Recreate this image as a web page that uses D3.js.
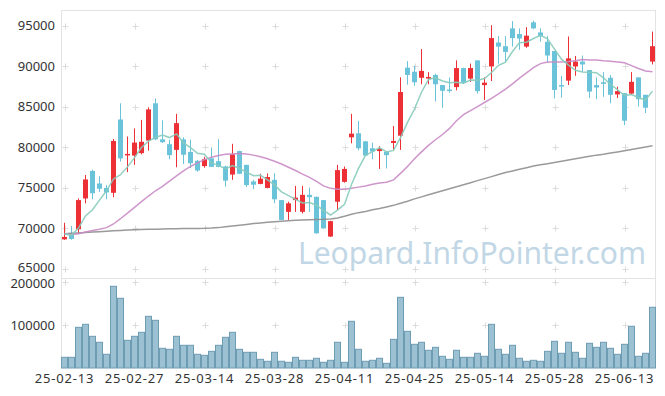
<!DOCTYPE html>
<html><head><meta charset="utf-8">
<script src="https://cdn.jsdelivr.net/npm/d3@7"></script>
<style>html,body{margin:0;padding:0;background:#fff;}svg{display:block;}</style>
</head><body>
<svg id="c" width="665" height="396"></svg>
<script>
const dates = ["25-02-13","25-02-14","25-02-17","25-02-18","25-02-19","25-02-20","25-02-21","25-02-24","25-02-25","25-02-26",
"25-02-27","25-02-28","25-03-04","25-03-05","25-03-06","25-03-07","25-03-10","25-03-11","25-03-12","25-03-13",
"25-03-14","25-03-17","25-03-18","25-03-19","25-03-20","25-03-21","25-03-24","25-03-25","25-03-26","25-03-27",
"25-03-28","25-03-31","25-04-01","25-04-02","25-04-03","25-04-04","25-04-07","25-04-08","25-04-09","25-04-10",
"25-04-11","25-04-14","25-04-15","25-04-16","25-04-17","25-04-18","25-04-21","25-04-22","25-04-23","25-04-24",
"25-04-25","25-04-28","25-04-29","25-04-30","25-05-02","25-05-07","25-05-08","25-05-09","25-05-12","25-05-13",
"25-05-14","25-05-15","25-05-16","25-05-19","25-05-20","25-05-21","25-05-22","25-05-23","25-05-26","25-05-27",
"25-05-28","25-05-29","25-05-30","25-06-02","25-06-04","25-06-05","25-06-09","25-06-10","25-06-11","25-06-12",
"25-06-13","25-06-16","25-06-17","25-06-18","25-06-19"];
const open = [68600,69400,69850,73650,77050,75500,74950,74350,83400,79100,
78950,79250,80800,85400,80950,80350,79650,80950,79400,78300,
77650,78600,78250,77600,76600,79500,77800,75750,75450,74950,
75950,73450,72000,73450,72000,74100,73850,73450,68950,73250,
75700,81200,81700,80700,79850,79500,79400,80500,81400,89800,
89300,88550,88450,88900,87650,87100,87400,89750,88450,90700,
87650,89950,92900,92450,94650,93950,92400,95400,94150,93000,
91850,87650,88200,89950,90550,89500,87650,88000,88550,86500,
86650,86600,88600,86450,90550];
const high = [70650,70250,73650,76550,77200,76400,75300,81000,85400,81300,
82300,83350,84900,86000,83300,80900,84100,81200,80900,78400,
78800,79950,80950,77700,80400,79550,77800,75950,76700,76750,
76750,73450,73250,75200,75200,75000,73900,73450,70900,77800,
77600,84100,83200,80750,80550,80100,79500,82600,88600,90600,
90050,92100,89250,89050,87650,88600,90700,89800,90300,90700,
88600,95050,93700,93700,95550,94650,94800,95600,94650,93700,
91850,88800,93650,91250,91300,89500,88600,89250,88900,87450,
86650,89250,88600,86450,94250];
const low = [68550,68550,69250,73050,73550,74450,73550,73800,78200,76900,
77800,79100,79550,80850,80500,78500,77500,77900,77400,76950,
77450,77550,77500,75100,75950,76650,75050,74800,75400,74900,
73050,70950,71000,72000,71800,72000,69300,69950,68900,72200,
75600,80450,79600,78900,78500,77300,77350,79650,79650,87700,
87550,87750,87750,85650,84850,86700,87000,87800,88050,86600,
85800,88150,90300,90550,92400,92000,92250,94550,93000,90450,
86000,86100,87650,88800,89300,86050,85900,86200,85400,86050,
82700,86450,85000,84200,90200];
const close = [68900,68650,73450,76000,74300,74850,74400,80750,78600,79150,
80550,80650,84650,80950,80600,79000,82950,79050,78000,77100,
78500,77550,77550,75850,79100,76700,75300,75350,76100,76300,
73550,71000,73050,73750,74100,73800,69350,69950,70850,77150,
77300,81650,79850,78950,79450,79750,79000,80750,86800,88900,
88000,89400,88650,87750,86950,86950,89750,87950,89750,86900,
87950,93450,92400,91750,93450,93400,93750,94650,93700,91300,
87050,87550,90950,90550,90200,86850,87350,87800,86450,86900,
83250,88050,85900,84850,92450];
const volume = [24900,24900,94600,101600,73700,59800,31900,190000,162100,64400,
73700,83000,120200,110900,45800,43500,73700,52800,52800,31900,
29500,38800,52800,71400,83000,43500,36500,36500,20200,15600,
36500,15600,13300,24900,17900,17900,22600,13300,17900,59800,
13300,108600,43500,15600,17900,22600,10900,66700,164400,85300,
55100,59800,41200,48100,27200,20200,41200,24900,24900,34200,
27200,101600,43500,31900,52800,22600,15600,17900,15600,38800,
62100,34200,59800,36500,22600,57400,48100,59800,45800,31900,
55100,97000,27200,34200,141200];
const ma5 = [69300,69100,70000,71500,72260,73450,74600,76060,76580,77550,
78690,79940,80720,81190,81480,81170,81630,80510,79920,79220,
79120,78040,77740,77310,77710,77350,76900,76460,76510,75950,
75320,74460,74000,73530,73090,73140,72810,72190,71610,72220,
72920,75380,77360,78980,79440,79930,79400,79580,81150,83040,
84690,86770,88350,88540,88150,87940,88010,87870,88270,88260,
88460,89200,90090,90490,91800,92890,92950,93400,93790,93360,
92090,90850,90110,89480,89260,89220,89180,88550,87730,87070,
86350,86490,86110,85790,86900];
const ma20 = [69300,69200,69300,69500,69700,69850,70050,70500,71150,71850,
72550,73250,73950,74600,75150,75800,76450,77050,77600,78050,
78450,78750,78950,79100,79150,79200,79150,79000,78800,78550,
78250,77900,77500,77100,76650,76250,75750,75200,74900,74800,
74800,74900,75050,75200,75400,75550,75650,75950,76750,77600,
78550,79400,80200,80900,81550,82300,83250,84000,84500,85000,
85500,86000,86550,87150,87800,88500,89150,89800,90300,90500,
90500,90500,90550,90650,90800,90750,90750,90650,90600,90500,
90400,90050,89700,89400,89300];
const ma120 = [69300,69350,69400,69450,69500,69550,69600,69650,69700,69750,
69800,69820,69840,69860,69880,69900,69920,69930,69940,69950,
69960,69990,70050,70150,70250,70350,70450,70550,70620,70700,
70780,70850,70900,70950,70980,71010,71040,71070,71120,71250,
71450,71700,71900,72050,72250,72400,72600,72800,73050,73300,
73600,73850,74100,74350,74600,74850,75100,75350,75600,75850,
76100,76350,76600,76850,77050,77250,77450,77650,77800,77950,
78100,78250,78400,78550,78700,78850,79000,79100,79250,79400,
79550,79700,79850,80000,80150];
const priceTicks = [65000,70000,75000,80000,85000,90000,95000];
const volumeTicks = [100000,200000];
const dateTickIdx = [0,10,20,30,40,50,60,70,80];
const watermark = "Leopard.InfoPointer.com";

const svg = d3.select("#c");
const FONT = "'Noto Sans', sans-serif";
const L = 61, R = 656, T = 10, MID = 278, B = 368;
const x = d3.scaleBand().domain(d3.range(dates.length)).range([L, R]).padding(0);
const bw = x.bandwidth();
const cx = i => x(i) + bw / 2;
const y = d3.scaleLinear().domain([63830, 96920]).range([MID, T]);
const yv = d3.scaleLinear().domain([0, 209300]).range([B, MID]);

// grid crosses
const grid = svg.append("g").attr("stroke", "#dcdcdc").attr("stroke-width", 1);
function crosses(vals, sc) {
  dateTickIdx.forEach(i => vals.forEach(v => {
    const px = Math.round(cx(i)) + 0.5, py = Math.round(sc(v)) + 0.5;
    grid.append("line").attr("x1", px - 3).attr("x2", px + 3).attr("y1", py).attr("y2", py);
    grid.append("line").attr("x1", px).attr("x2", px).attr("y1", py - 3).attr("y2", py + 3);
  }));
}
crosses(priceTicks, y);
crosses(volumeTicks, yv);

// frame
const frame = svg.append("g").attr("stroke", "#e3e3e3").attr("stroke-width", 1).attr("fill", "none");
frame.append("line").attr("x1", L + 0.5).attr("x2", L + 0.5).attr("y1", T).attr("y2", B);
frame.append("line").attr("x1", R - 0.5).attr("x2", R - 0.5).attr("y1", T).attr("y2", B);
frame.append("line").attr("x1", L).attr("x2", R).attr("y1", T + 0.5).attr("y2", T + 0.5);
frame.append("line").attr("x1", L).attr("x2", R).attr("y1", MID + 0.5).attr("y2", MID + 0.5);

// watermark
svg.append("text").attr("x", 646).attr("y", 264).attr("text-anchor", "end")
  .attr("font-family", FONT).attr("font-size", 30).attr("fill", "#c2d7e6")
  .text(watermark);

// volume bars
svg.append("g").selectAll("rect").data(volume).join("rect")
  .attr("x", (d, i) => x(i) + 0.5).attr("width", bw - 1)
  .attr("y", d => yv(d)).attr("height", d => B - yv(d))
  .attr("fill", "#9bc1d3").attr("stroke", "#6e9cb3").attr("stroke-width", 1);

// candles
const RED = "#ec3036", BLUE = "#6ac3d9";
const cg = svg.append("g");
dates.forEach((d, i) => {
  const up = close[i] >= open[i];
  const col = up ? RED : BLUE;
  const c = Math.round(cx(i) - 0.5) + 0.5;
  cg.append("line").attr("x1", c).attr("x2", c).attr("y1", y(high[i])).attr("y2", y(low[i]))
    .attr("stroke", col).attr("stroke-width", 1);
  const top = y(Math.max(open[i], close[i])), bot = y(Math.min(open[i], close[i]));
  cg.append("rect").attr("x", c - 2.5).attr("width", 5)
    .attr("y", top).attr("height", Math.max(1.5, bot - top)).attr("fill", col);
});

// moving averages
const line = d3.line().x((d, i) => cx(i)).y(d => y(d));
[[ma120, "#8f8f8f"], [ma20, "#c98bc5"], [ma5, "#86cbbb"]].forEach(([arr, col]) => {
  svg.append("path").attr("d", line(arr)).attr("fill", "none").attr("stroke", col)
    .attr("stroke-width", 1.5).attr("stroke-opacity", 0.9);
});

// axis labels
const lab = svg.append("g").attr("font-family", FONT).attr("font-size", 13).attr("fill", "#333");
priceTicks.forEach(v => lab.append("text").attr("x", 55).attr("y", y(v) + (v === 65000 ? -1 : 0)).attr("dy", "0.35em")
  .attr("text-anchor", "end").text(v));
volumeTicks.forEach(v => lab.append("text").attr("x", 55).attr("y", yv(v) + (v === 200000 ? 1 : 0)).attr("dy", "0.35em")
  .attr("text-anchor", "end").text(v));
dateTickIdx.forEach(i => lab.append("text").attr("x", cx(i)).attr("y", 378).attr("dy", "0.35em")
  .attr("text-anchor", "middle").attr("letter-spacing", "0.8px").text(dates[i]));
</script>
</body></html>
